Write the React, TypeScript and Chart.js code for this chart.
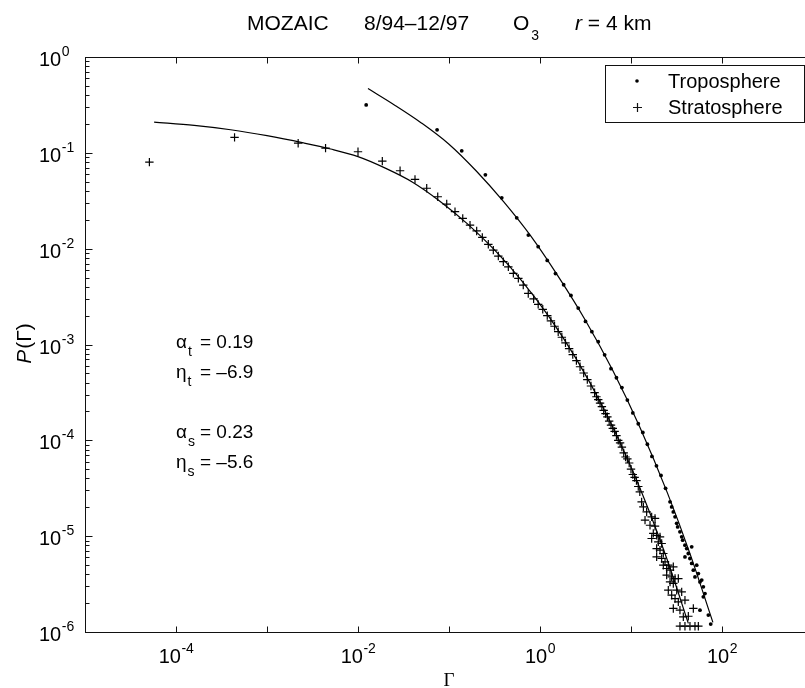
import React, { useEffect, useRef } from "react";
import { Chart, registerables } from "chart.js";

Chart.register(...registerables);

// ---------- data ----------
const tropoGamma = [
  0.0123, 0.074, 0.138, 0.251, 0.38, 0.555, 0.745, 0.955, 1.202, 1.479, 1.82, 2.188, 2.63, 3.162, 3.715,
  4.365, 5.129, 6.026, 6.918, 7.943, 9.12, 10.47, 12.02, 13.49, 15.14, 16.98, 19.05, 21.38, 23.99,
  26.85, 27.99, 29.17, 30.48, 31.77, 32.58, 34.51, 36.06, 36.98, 39.17, 40.93, 46.45, 39.17, 42.66,
  44.46, 46.45, 52.72, 48.42, 50.47, 54.95, 57.28, 59.84, 62.37, 65.01, 62.37, 57.28, 70.79, 75.16,
];
const tropoP = [
  0.316, 0.174, 0.105, 0.0589, 0.0339, 0.021, 0.01387, 0.0105, 7.53e-3, 5.5e-3, 4.2e-3, 3.25e-3, 2.4e-3,
  1.74e-3, 1.36e-3, 1.07e-3, 7.8e-4, 5.6e-4, 4.5e-4, 3.55e-4, 2.63e-4, 1.93e-4, 1.49e-4, 1.21e-4, 9.1e-5,
  6.8e-5, 5.42e-5, 4.3e-5, 3.16e-5,
  2.28e-5, 2.02e-5, 1.79e-5, 1.59e-5, 1.36e-5, 1.25e-5, 1.11e-5, 9.84e-6, 9.08e-6, 8.05e-6, 7.43e-6,
  7.74e-6, 6.08e-6, 6.59e-6, 5.85e-6, 5.19e-6, 4.98e-6, 4.42e-6, 3.76e-6, 4.07e-6, 3.33e-6, 3.48e-6,
  2.96e-6, 2.52e-6, 2.33e-6, 1.69e-6, 1.5e-6, 1.21e-6,
];

const stratGamma = [
  5.1e-5, 4.4e-4, 2.2e-3, 4.4e-3, 0.01, 0.0185, 0.029, 0.0423, 0.0569, 0.0752, 0.0944, 0.1164, 0.1416,
  0.1702, 0.2014, 0.2323, 0.2704, 0.3069, 0.3483, 0.3954, 0.4487, 0.5093, 0.5781, 0.6546, 0.743,
  0.851, 0.955, 1.072, 1.202, 1.318, 1.445, 1.585, 1.738, 1.905, 2.089, 2.291, 2.512, 2.754, 3.02,
  3.311, 3.631, 3.981, 4.17, 4.365, 4.57, 4.786, 5.01, 5.248, 5.5, 5.754, 6.03, 6.31, 6.61, 6.918, 7.24,
  7.586, 7.94, 8.318, 8.71, 9.12, 9.55, 10.0, 10.47, 10.96, 11.48, 12.02, 12.5,
  13.09, 13.68, 14.86, 16.87, 18.37, 14.26, 16.18, 18.37, 17.58, 19.14, 20.84, 16.87, 19.95, 21.73,
  19.14, 20.84, 22.65, 19.14, 21.73, 23.66, 22.65, 25.7, 24.66, 26.85, 29.17, 24.66, 27.99, 30.48,
  33.11, 26.85, 29.17, 25.7, 31.77, 36.06, 27.99, 30.48, 39.17, 33.11, 29.17, 34.51, 48.42, 37.58,
  42.66, 34.51, 39.17, 44.46, 50.47, 54.95,
];
const stratP = [
  0.08, 0.145, 0.126, 0.112, 0.1026, 0.082, 0.065, 0.0528, 0.0427, 0.0348, 0.0292, 0.0243, 0.0207,
  0.0176, 0.0153, 0.0131, 0.0111, 9.66e-3, 8.37e-3, 7.31e-3, 6.47e-3, 5.52e-3, 4.9e-3, 4.17e-3, 3.41e-3,
  3.0e-3, 2.62e-3, 2.33e-3, 2.0e-3, 1.76e-3, 1.55e-3, 1.36e-3, 1.19e-3, 1.04e-3, 9.06e-4, 7.85e-4,
  6.79e-4, 5.86e-4, 5.04e-4, 4.31e-4, 3.69e-4, 3.14e-4, 2.85e-4, 2.66e-4, 2.45e-4, 2.25e-4, 2.05e-4,
  1.9e-4, 1.76e-4, 1.59e-4, 1.44e-4, 1.33e-4, 1.24e-4, 1.12e-4, 1.0e-4, 9.4e-5, 8.5e-5, 7.4e-5, 6.7e-5,
  6.4e-5, 5.8e-5, 5.0e-5, 4.4e-5, 4.1e-5, 3.8e-5, 3.3e-5, 2.9e-5,
  2.28e-5, 2.02e-5, 1.79e-5, 1.59e-5, 1.53e-5, 1.47e-5, 1.3e-5, 1.27e-5, 1.07e-5, 1.02e-5, 9.84e-6,
  9.46e-6, 8.73e-6, 8.38e-6, 7.43e-6, 7.14e-6, 6.59e-6, 6.08e-6, 5.85e-6, 5.4e-6, 4.98e-6, 4.98e-6,
  4.6e-6, 4.42e-6, 4.79e-6, 3.92e-6, 3.76e-6, 3.61e-6, 3.61e-6, 3.33e-6, 3.21e-6, 2.73e-6, 2.73e-6,
  2.62e-6, 2.42e-6, 2.23e-6, 2.15e-6, 2.06e-6, 1.76e-6, 1.69e-6, 1.76e-6, 1.44e-6, 1.46e-6,
  1.15e-6, 1.15e-6, 1.15e-6, 1.15e-6, 1.15e-6,
];

const tropoFitGamma = [0.01288, 0.0251, 0.0501, 0.1, 0.1995, 0.398, 0.794, 1.585, 3.162, 6.31, 12.59, 25.12, 44.67, 79.43];
const tropoFitP = [0.468, 0.316, 0.204, 0.123, 0.0646, 0.0309, 0.01349, 5.13e-3, 1.78e-3, 5.35e-4, 1.355e-4, 2.83e-5, 6.49e-6, 1.26e-6];

const stratFitGamma = [5.75e-5, 1.585e-4, 3.98e-4, 1e-3, 2.51e-3, 5.01e-3, 0.01, 0.01995, 0.0398, 0.0794, 0.1585, 0.3162, 0.631, 1.259, 2.512, 5.01, 10, 15.85, 25.12, 42.66];
const stratFitP = [0.209, 0.193, 0.174, 0.151, 0.127, 0.1096, 0.0912, 0.0692, 0.0494, 0.0313, 0.01824, 9.7e-3, 4.62e-3, 1.945e-3, 7.03e-4, 2.14e-4, 5.28e-5, 1.82e-5, 5.6e-6, 1.23e-6];

const xTickExponents = [-5, -4, -3, -2, -1, 0, 1, 2, 3];
const xLabelExponents = [-4, -2, 0, 2];
const yTickExponents = [0, -1, -2, -3, -4, -5, -6];
const legendLabels = ["Troposphere", "Stratosphere"];
const fitText = [
  { sym: "α", sub: "t", val: "= 0.19" },
  { sym: "η", sub: "t", val: "= –6.9" },
  { sym: "α", sub: "s", val: "= 0.23" },
  { sym: "η", sub: "s", val: "= –5.6" },
];

const SANS = '"Liberation Sans", Arial, Helvetica, sans-serif';
const SERIF = '"Liberation Serif", "Times New Roman", serif';

const toPts = (xs: number[], ys: number[]) => xs.map((x, i) => ({ x, y: ys[i] }));

const decor = {
  id: "decor",
  afterDraw(chart: any) {
    const ctx: CanvasRenderingContext2D = chart.ctx;
    const { left, right, top, bottom } = chart.chartArea;
    const xs = chart.scales.x;
    const ys = chart.scales.y;
    ctx.save();
    ctx.strokeStyle = "#111";
    ctx.fillStyle = "#000";
    ctx.lineWidth = 1;
    const L = Math.round(left) + 0.5;
    const R = Math.round(right) + 0.5;
    const T = Math.round(top) + 0.5;
    const B = Math.round(bottom) + 0.5;
    ctx.strokeRect(L, T, R - L, B - T);

    ctx.beginPath();
    for (const e of xTickExponents) {
      const px = Math.round(xs.getPixelForValue(Math.pow(10, e))) + 0.5;
      ctx.moveTo(px, B);
      ctx.lineTo(px, B - 6);
      ctx.moveTo(px, T);
      ctx.lineTo(px, T + 6);
    }
    for (const e of yTickExponents) {
      const py = Math.round(ys.getPixelForValue(Math.pow(10, e))) + 0.5;
      ctx.moveTo(L, py);
      ctx.lineTo(L + 7, py);
      ctx.moveTo(R, py);
      ctx.lineTo(R - 7, py);
      if (e < 0) {
        for (let m = 2; m <= 9; m++) {
          const pm = Math.round(ys.getPixelForValue(m * Math.pow(10, e))) + 0.5;
          ctx.moveTo(L, pm);
          ctx.lineTo(L + 4, pm);
          ctx.moveTo(R, pm);
          ctx.lineTo(R - 4, pm);
        }
      }
    }
    ctx.stroke();

    // tick labels
    ctx.textBaseline = "alphabetic";
    ctx.textAlign = "left";
    const big = `20px ${SANS}`;
    const small = `14px ${SANS}`;
    for (const e of xLabelExponents) {
      const px = xs.getPixelForValue(Math.pow(10, e));
      ctx.font = big;
      const w1 = ctx.measureText("10").width;
      ctx.font = small;
      const es = String(e);
      const w2 = ctx.measureText(es).width;
      const start = px - (w1 + w2) / 2;
      ctx.font = big;
      ctx.fillText("10", start, 663);
      ctx.font = small;
      ctx.fillText(es, start + w1 + 0.5, 653);
    }
    for (const e of yTickExponents) {
      const py = ys.getPixelForValue(Math.pow(10, e));
      ctx.font = big;
      const w1 = ctx.measureText("10").width;
      ctx.fillText("10", 39, py + 9);
      ctx.font = small;
      ctx.fillText(String(e), 39 + w1 + 0.5, py - 1);
    }

    // title
    const tf = `21px ${SANS}`;
    ctx.font = tf;
    ctx.fillText("MOZAIC", 247, 30);
    ctx.fillText("8/94–12/97", 364, 30);
    ctx.fillText("O", 513, 30);
    const wO = ctx.measureText("O").width;
    ctx.font = `14px ${SANS}`;
    ctx.fillText("3", 513 + wO + 2, 40);
    ctx.font = `italic 21px ${SANS}`;
    ctx.fillText("r", 575, 30);
    const wr = ctx.measureText("r").width;
    ctx.font = tf;
    ctx.fillText(" = 4 km", 575 + wr, 30);

    // y axis label
    ctx.save();
    ctx.translate(25, 344);
    ctx.rotate(-Math.PI / 2);
    ctx.font = `italic 21px ${SANS}`;
    const wP = ctx.measureText("P").width;
    ctx.font = `21px ${SANS}`;
    const wRest = ctx.measureText("(Γ)").width;
    const s0 = -(wP + wRest) / 2;
    ctx.font = `italic 21px ${SANS}`;
    ctx.fillText("P", s0, 6);
    ctx.font = `21px ${SANS}`;
    ctx.fillText("(Γ)", s0 + wP + 1, 6);
    ctx.restore();

    // x axis label
    ctx.font = `19px ${SERIF}`;
    ctx.textAlign = "center";
    ctx.fillText("Γ", 449, 686);
    ctx.textAlign = "left";

    // fit parameters
    const baselines = [348, 378, 438, 468];
    fitText.forEach((f, i) => {
      const b = baselines[i];
      ctx.font = `19px ${SANS}`;
      ctx.fillText(f.sym, 176, b);
      const ws = ctx.measureText(f.sym).width;
      ctx.font = `14px ${SANS}`;
      ctx.fillText(f.sub, 176 + ws + 1, b + 8);
      ctx.font = `19px ${SANS}`;
      ctx.fillText(f.val, 200, b);
    });

    // legend
    ctx.fillStyle = "#fff";
    ctx.fillRect(605.5, 65.5, 199, 57);
    ctx.strokeRect(605.5, 65.5, 199, 57);
    ctx.fillStyle = "#000";
    ctx.font = `20px ${SANS}`;
    ctx.fillText(legendLabels[0], 668, 88);
    ctx.fillText(legendLabels[1], 668, 114);
    ctx.beginPath();
    ctx.arc(637, 81, 1.8, 0, Math.PI * 2);
    ctx.fill();
    ctx.lineWidth = 1.2;
    ctx.beginPath();
    ctx.moveTo(633, 107.5);
    ctx.lineTo(642, 107.5);
    ctx.moveTo(637.5, 103);
    ctx.lineTo(637.5, 112);
    ctx.stroke();

    ctx.restore();
  },
};

export default function App() {
  const ref = useRef<HTMLCanvasElement | null>(null);
  useEffect(() => {
    if (!ref.current) return;
    const chart = new Chart(ref.current, {
      type: "scatter",
      data: {
        datasets: [
          {
            label: "Troposphere fit",
            data: toPts(tropoFitGamma, tropoFitP),
            showLine: true,
            pointRadius: 0,
            borderColor: "#000",
            borderWidth: 1.2,
            cubicInterpolationMode: "monotone",
          },
          {
            label: "Stratosphere fit",
            data: toPts(stratFitGamma, stratFitP),
            showLine: true,
            pointRadius: 0,
            borderColor: "#000",
            borderWidth: 1.2,
            cubicInterpolationMode: "monotone",
          },
          {
            label: legendLabels[0],
            data: toPts(tropoGamma, tropoP),
            pointStyle: "circle",
            pointRadius: 1.9,
            backgroundColor: "#000",
            borderColor: "#000",
            borderWidth: 0,
          },
          {
            label: legendLabels[1],
            data: toPts(stratGamma, stratP),
            pointStyle: "cross",
            pointRadius: 4.2,
            borderColor: "#000",
            borderWidth: 1.2,
          },
        ],
      },
      options: {
        responsive: false,
        animation: false,
        devicePixelRatio: 1,
        events: [],
        layout: { padding: { top: 57, right: 7, left: 0, bottom: 0 } },
        plugins: { legend: { display: false }, tooltip: { enabled: false }, title: { display: false } },
        scales: {
          x: {
            type: "logarithmic",
            min: 1e-5,
            max: 1e3,
            grid: { display: false },
            border: { display: false },
            ticks: { display: false },
            afterFit: (s: any) => {
              s.height = 56;
            },
          },
          y: {
            type: "logarithmic",
            min: 1e-6,
            max: 1,
            grid: { display: false },
            border: { display: false },
            ticks: { display: false },
            afterFit: (s: any) => {
              s.width = 85;
            },
          },
        },
      } as any,
      plugins: [decor],
    });
    return () => chart.destroy();
  }, []);

  return (
    <div style={{ position: "absolute", left: 0, top: 0, width: 805, height: 688, overflow: "hidden", background: "#fff" }}>
      <canvas ref={ref} width={820} height={688} style={{ display: "block" }} />
    </div>
  );
}
